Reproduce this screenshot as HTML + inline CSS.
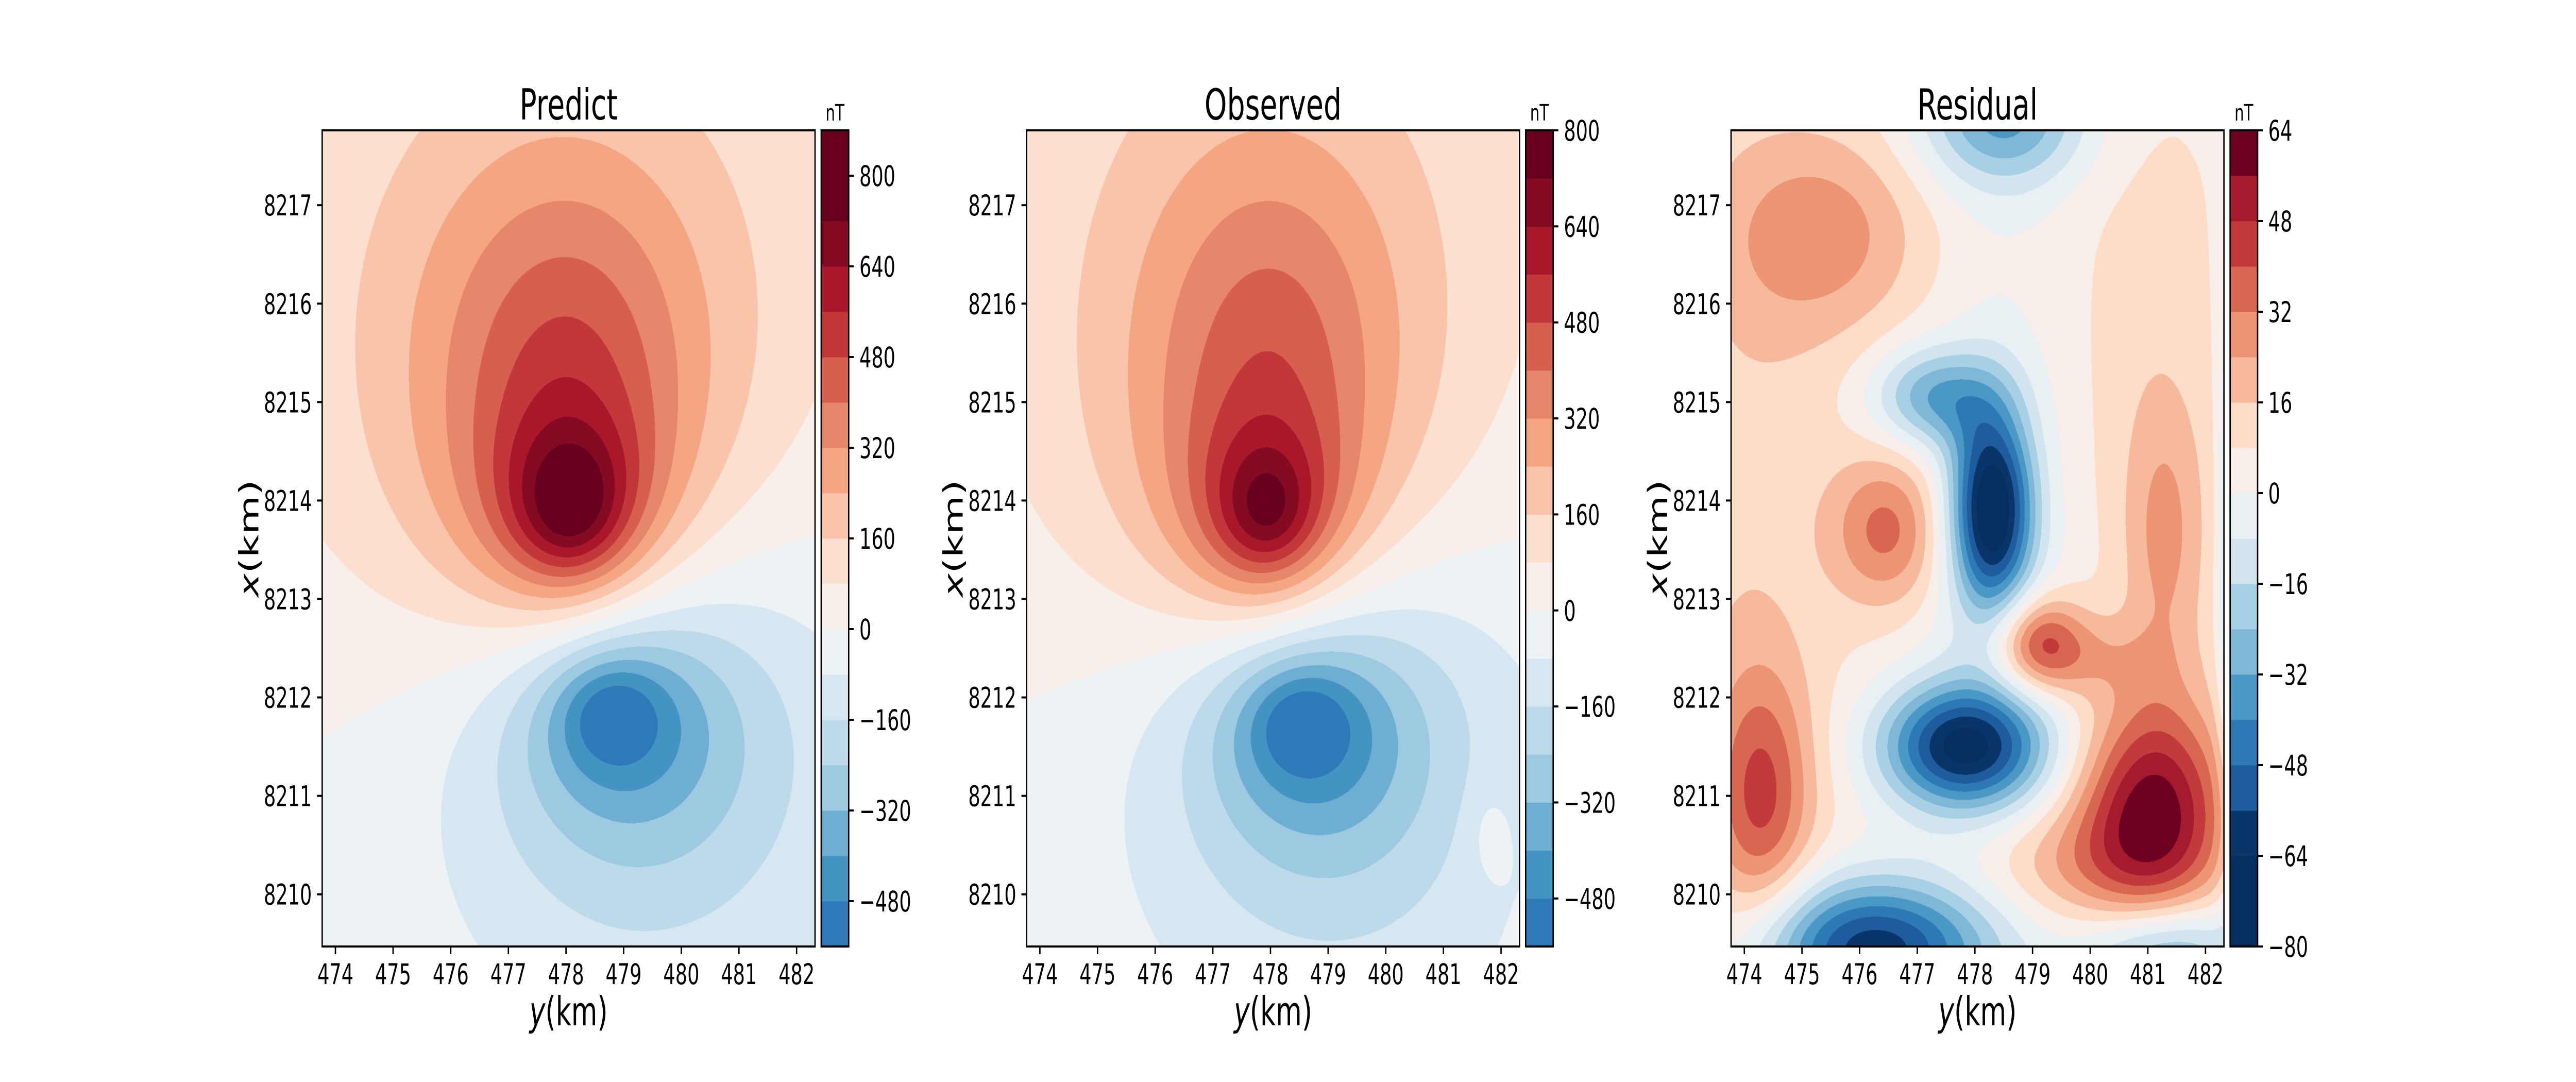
<!DOCTYPE html>
<html><head><meta charset="utf-8">
<style>
html,body{margin:0;padding:0;background:#fff;overflow:hidden;}
#wrap{position:relative;overflow:hidden;background:#fff;}
#fig{position:absolute;left:0;top:0;width:7500px;height:2100px;overflow:hidden;font-family:"DejaVu Sans","Liberation Sans",sans-serif;transform-origin:0 0;background:#fff;}
canvas{position:absolute;}
svg{position:absolute;left:0;top:0;}
</style></head>
<body>
<div id="wrap">
<div id="fig">
<canvas id="c0"></canvas>
<canvas id="c1"></canvas>
<canvas id="c2"></canvas>
<svg id="ov" width="7500" height="2100"></svg>
</div>
</div>
<script>
// fit the 7500x2100 figure to the viewport
(function(){
  const W = window.innerWidth || 7500, H = window.innerHeight || 2100;
  const sx = W / 7500, sy = H / 2100;
  const w = document.getElementById('wrap');
  w.style.width = W + 'px';
  w.style.height = H + 'px';
  document.documentElement.style.height = H + 'px';
  document.body.style.height = H + 'px';
  if (Math.abs(sx-1) > 0.001 || Math.abs(sy-1) > 0.001) document.getElementById('fig').style.transform = 'scale(' + sx + ',' + sy + ')';
})();

// ---- axis data ----
const xTicksKm = [474,475,476,477,478,479,480,481,482];
const yTicksKm = [8210,8211,8212,8213,8214,8215,8216,8217];
const yKmMin = 473.77, yKmMax = 482.32, xKmMin = 8209.47, xKmMax = 8217.76;

// ---- colour levels ----
const predLevels = [-560,-480,-400,-320,-240,-160,-80,0,80,160,240,320,400,480,560,640,720,880];
const predColors = ["#3079b8","#4393c3","#6faed3","#9dcae0","#bcdaea","#d6e7f1","#edf2f5","#f8efea","#fbe0d0","#f9c4a9","#f4a582","#e6866a","#d6604d","#c2383a","#a8172a","#850a24","#67001f"];
const predTicks = [-480,-320,-160,0,160,320,480,640,800];
const obsLevels = [-560,-480,-400,-320,-240,-160,-80,0,80,160,240,320,400,480,560,640,720,800];
const obsColors = predColors;
const obsTicks = [-480,-320,-160,0,160,320,480,640,800];
const resLevels = [-80,-64,-56,-48,-40,-32,-24,-16,-8,0,8,16,24,32,40,48,56,64];
const resColors = ["#062f5f","#093569","#1f5c9e","#2e79b5","#4b98c7","#7fb7d6","#a8d0e4","#d2e5ef","#e8f0f4","#f8eee9","#fddcc8","#f6b99b","#ec9474","#d86752","#c23a3b","#a51a2d","#6d0020"];
const resTicks = [-80,-64,-48,-32,-16,0,16,32,48,64];

// ---- anomaly sources (y km, x km, amplitude nT, widths km) ----
const predSrcY  = [478.1, 478.0, 478.75, 479.3];
const predSrcX  = [8213.9, 8215.6, 8211.85, 8211.8];
const predSrcA  = [800, 440, -430, -420];
const predSrcSy = [1.3, 2.9, 1.2, 3.0];
const predSrcSx = [0.95, 2.4, 0.75, 2.2];

const obsSrcY  = [477.95, 478.0, 478.5, 479.0, 481.8];
const obsSrcX  = [8213.85, 8215.6, 8211.75, 8211.7, 8210.6];
const obsSrcA  = [700, 440, -430, -420, 90];
const obsSrcSy = [1.2, 2.8, 1.2, 2.9, 0.3];
const obsSrcSx = [0.9, 2.6, 0.75, 2.2, 0.4];

const resBase = 5;
const resSrcY  = [474.0, 475.4, 476.5, 474.3, 479.1, 481.1, 479.4, 481.3, 481.0, 478.3, 477.3, 477.8, 476.2, 481.3, 478.5, 478.3, 482.4, 480.0];
const resSrcX  = [8213.5, 8216.7, 8213.7, 8211.0, 8212.55, 8210.8, 8210.3, 8213.6, 8215.5, 8213.9, 8215.05, 8211.5, 8209.45, 8209.4, 8217.9, 8213.0, 8213.5, 8212.4];
const resSrcA  = [9, 22, 30, 32, 38, 56, 16, 18, 7, -74, -34, -68, -66, -38, -38, -8, -16, 12];
const resSrcSy = [1.2, 1.3, 0.7, 0.6, 0.55, 0.9, 1.2, 0.5, 1.0, 0.5, 0.75, 1.0, 1.4, 1.0, 1.0, 1.0, 0.15, 0.8];
const resSrcSx = [3.5, 0.75, 0.55, 0.9, 0.35, 0.8, 0.45, 1.0, 2.0, 0.72, 0.35, 0.45, 0.5, 0.4, 0.5, 3.5, 2.5, 0.3];

// ---- layout ----
const panelLeft = [938, 2989, 5040];
const plotTop = 253, plotW = 1435, plotH = 1584;
const cbGap = 18, cbW = 80;
const titles = ["Predict","Observed","Residual"];

function makeX(left){ return km => left + (km - yKmMin)/(yKmMax - yKmMin)*plotW; }
function makeY(){ return km => plotTop + (xKmMax - km)/(xKmMax - xKmMin)*plotH; }
function hex(c){ return [parseInt(c.substr(1,2),16),parseInt(c.substr(3,2),16),parseInt(c.substr(5,2),16)]; }

function drawField(id, left, sy, sx, sa, ssy, ssx, kind, base, levels, colors){
  const cv = document.getElementById(id);
  cv.width = plotW; cv.height = plotH;
  cv.style.left = left+'px'; cv.style.top = plotTop+'px';
  const ctx = cv.getContext('2d');
  const img = ctx.createImageData(plotW, plotH);
  const d = img.data;
  const n = sy.length;
  const rgb = colors.map(hex);
  const colT = [], rowT = [];
  for (let k=0;k<n;k++){
    const ct = new Float64Array(plotW), rt = new Float64Array(plotH);
    for (let i=0;i<plotW;i++){ const y = yKmMin + (i+0.5)/plotW*(yKmMax-yKmMin); const u=(y-sy[k])/ssy[k]; ct[i] = kind==='g'? Math.exp(-0.5*u*u) : u*u; }
    for (let j=0;j<plotH;j++){ const x = xKmMax - (j+0.5)/plotH*(xKmMax-xKmMin); const u=(x-sx[k])/ssx[k]; rt[j] = kind==='g'? Math.exp(-0.5*u*u) : u*u; }
    colT.push(ct); rowT.push(rt);
  }
  for (let j=0;j<plotH;j++){
    for (let i=0;i<plotW;i++){
      let v = base;
      for (let k=0;k<n;k++){
        if (kind==='g') v += sa[k]*colT[k][i]*rowT[k][j];
        else v += sa[k]/(1+colT[k][i]+rowT[k][j]);
      }
      let idx = 0;
      if (v >= levels[levels.length-1]) idx = rgb.length-1;
      else if (v > levels[0]) { for (let b=1;b<levels.length;b++){ if (v < levels[b]){ idx=b-1; break; } } }
      const c = rgb[idx]; const p = (j*plotW+i)*4;
      d[p]=c[0]; d[p+1]=c[1]; d[p+2]=c[2]; d[p+3]=255;
    }
  }
  ctx.putImageData(img,0,0);
}

drawField('c0', panelLeft[0], predSrcY, predSrcX, predSrcA, predSrcSy, predSrcSx, 'c', 0, predLevels, predColors);
drawField('c1', panelLeft[1], obsSrcY, obsSrcX, obsSrcA, obsSrcSy, obsSrcSx, 'c', 0, obsLevels, obsColors);
drawField('c2', panelLeft[2], resSrcY, resSrcX, resSrcA, resSrcSy, resSrcSx, 'g', resBase, resLevels, resColors);

// ---- overlay (axes, colorbars, text) ----
const NS = 'http://www.w3.org/2000/svg';
const ov = document.getElementById('ov');
function el(tag, attrs, parent){ const e=document.createElementNS(NS,tag); for (const k in attrs) e.setAttribute(k, attrs[k]); (parent||ov).appendChild(e); return e; }
function fmt(v){ return v<0 ? '\u2212'+Math.abs(v) : String(v); }

const allLevels = [predLevels, obsLevels, resLevels];
const allColors = [predColors, obsColors, resColors];
const allTicks = [predTicks, obsTicks, resTicks];

for (let p=0;p<3;p++){
  const left = panelLeft[p];
  const X = makeX(left), Y = makeY();
  const g = el('g', {});
  
  
  const t = el('text', {x:left+plotW/2, y:232, 'font-size':83, 'text-anchor':'middle'}, g);
  t.textContent = titles[p];
  
  
  xTicksKm.forEach(v=>{
    const px = X(v);
    const tk = el('line', {x1:px, x2:px, y1:plotTop+plotH, y2:plotTop+plotH+15, stroke:'#000', 'stroke-width':4}, g);
    
    
    const lb = el('text', {x:px, y:1910, 'font-size':55, 'text-anchor':'middle'}, g);
    lb.textContent = v;
    
    
  });
  yTicksKm.forEach(v=>{
    const py = Y(v);
    const tk = el('line', {x1:left-15, x2:left, y1:py, y2:py, stroke:'#000', 'stroke-width':4}, g);
    
    
    const lb = el('text', {x:left-30, y:py+20, 'font-size':55, 'text-anchor':'end'}, g);
    lb.textContent = v;
    
    
  });
  const xl = el('text', {x:left+plotW/2, y:1990, 'font-size':78, 'text-anchor':'middle'}, g);
  xl.innerHTML = '<tspan font-style="italic">y</tspan>(km)';
  
  
  const yl = el('text', {x:0, y:0, 'font-size':78, 'text-anchor':'middle', transform:'translate('+(left-186)+','+(plotTop+plotH/2)+') rotate(-90)'}, g);
  yl.innerHTML = '<tspan font-style="italic">x</tspan>(km)';
  
  
  const fr = el('rect', {x:left, y:plotTop, width:plotW, height:plotH, fill:'none', stroke:'#000', 'stroke-width':4}, g);
  
  
  const lv = allLevels[p], cs = allColors[p];
  const cbx = left + plotW + cbGap;
  const vmin = lv[0], vmax = lv[lv.length-1];
  const C = v => plotTop + (vmax - v)/(vmax - vmin)*plotH;
  for (let i=0;i<cs.length;i++){
    const r = el('rect', {x:cbx, y:C(lv[i+1]), width:cbW, height:C(lv[i])-C(lv[i+1])+0.5, fill:cs[i]}, g);
    
    
  }
  const cf = el('rect', {x:cbx, y:plotTop, width:cbW, height:plotH, fill:'none', stroke:'#000', 'stroke-width':4}, g);
  
  
  allTicks[p].forEach(v=>{
    const py = C(v);
    const tk = el('line', {x1:cbx+cbW, x2:cbx+cbW+15, y1:py, y2:py, stroke:'#000', 'stroke-width':4}, g);
    
    
    const lb = el('text', {x:cbx+cbW+31, y:py+20, 'font-size':55}, g);
    lb.textContent = fmt(v);
    
    
  });
  const nt = el('text', {x:cbx+cbW/2, y:234, 'font-size':44, 'text-anchor':'middle'}, g);
  nt.textContent = 'nT';
  
  
}
</script>
</body></html>
